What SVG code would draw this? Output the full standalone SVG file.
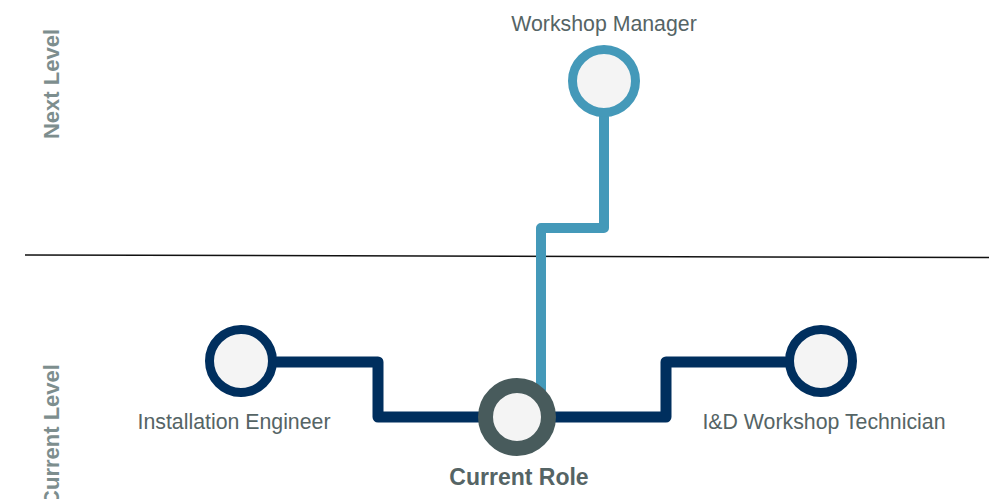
<svg xmlns="http://www.w3.org/2000/svg" width="989" height="499" viewBox="0 0 989 499">
<style>
.lbl{font-family:"Liberation Sans",Arial,sans-serif;font-size:21.3px;fill:#556465;text-anchor:middle}
.bold{font-weight:bold;font-size:23px}
.lvl{font-family:"Liberation Sans",Arial,sans-serif;font-size:22px;font-weight:bold;fill:#7d8e8e;text-anchor:middle}
.node{fill:#f4f4f4}
.conn{fill:none;stroke-linejoin:round;stroke-linecap:round}
</style>
<rect width="989" height="499" fill="#ffffff"/>
<line x1="25" y1="255" x2="989" y2="257.5" stroke="#111111" stroke-width="1.5"/>
<text class="lvl" transform="translate(59,84) rotate(-90)">Next Level</text>
<text class="lvl" transform="translate(59,435) rotate(-90)">Current Level</text>
<g id="connectors">
<polyline class="conn" points="604,117 604,228 541,228 541,390" stroke="#4499b9" stroke-width="10"/>
<polyline class="conn" points="277,362 378,362 378,417 480,417" stroke="#002f5e" stroke-width="11"/>
<polyline class="conn" points="555,417 666,417 666,362 785,362" stroke="#002f5e" stroke-width="11"/>
</g>
<g id="workshop-manager">
<circle class="node" cx="604" cy="81" r="31.5" stroke="#4499b9" stroke-width="9"/>
<text class="lbl" x="604" y="31">Workshop Manager</text>
</g>
<g id="installation-engineer">
<circle class="node" cx="241" cy="361" r="31.5" stroke="#002f5e" stroke-width="9"/>
<text class="lbl" x="234" y="429">Installation Engineer</text>
</g>
<g id="current-role">
<circle class="node" cx="517" cy="417" r="31.5" stroke="#485b5c" stroke-width="15"/>
<text class="lbl bold" x="519" y="485">Current Role</text>
</g>
<g id="id-workshop-technician">
<circle class="node" cx="821" cy="361" r="31.5" stroke="#002f5e" stroke-width="9"/>
<text class="lbl" x="824" y="429">I&amp;D Workshop Technician</text>
</g>
</svg>
